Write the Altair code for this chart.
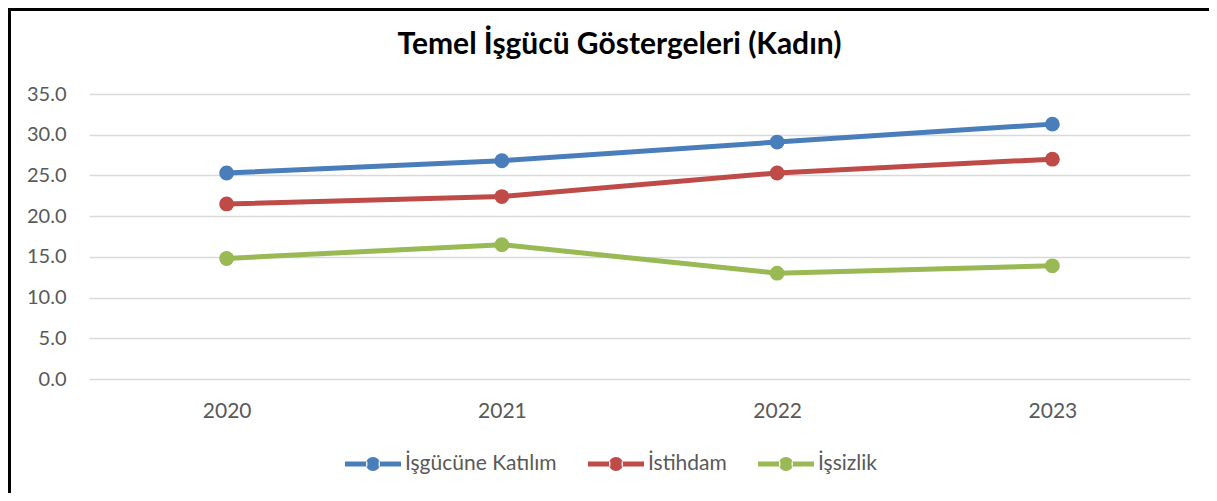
import altair as alt
import pandas as pd

years = ["2020", "2021", "2022", "2023"]
series_names = ["İşgücüne Katılım", "İstihdam", "İşsizlik"]
katilim = [25.3, 26.8, 29.1, 31.3]
istihdam = [21.5, 22.4, 25.3, 27.0]
issizlik = [14.8, 16.5, 13.0, 13.9]
colors = ["#4A7EBB", "#BE4B48", "#98B954"]
y_ticks = [0, 5, 10, 15, 20, 25, 30, 35]

rows = []
for name, vals in zip(series_names, [katilim, istihdam, issizlik]):
    for yr, v in zip(years, vals):
        rows.append({"Yıl": yr, "Seri": name, "Değer": v})
df = pd.DataFrame(rows)

W, H = 1101, 285
PAD = {"left": 81, "top": 86, "right": 19, "bottom": 114}

xenc = alt.X("Yıl:N", sort=years,
             scale=alt.Scale(type="point", padding=0.5),
             axis=alt.Axis(title=None, labelAngle=0, domain=False, ticks=False,
                           labelPadding=21, labelFontSize=21, labelFont="Lato",
                           labelColor="#595959", grid=False))
yenc = alt.Y("Değer:Q", scale=alt.Scale(domain=[0, 35], nice=False),
             axis=alt.Axis(title=None, values=y_ticks, format=".1f", domain=False,
                           ticks=False, labelPadding=23, labelFontSize=20,
                           labelFont="Lato", labelColor="#595959",
                           gridColor="#D9D9D9", gridWidth=1.5))

legend_path = ("M-1,-0.09L-0.2,-0.09L-0.2,0.09L-1,0.09Z "
               "M0.2,-0.09L1,-0.09L1,0.09L0.2,0.09Z "
               "M-0.25,0A0.25,0.25,0,1,0,0.25,0A0.25,0.25,0,1,0,-0.25,0Z")

base = alt.Chart(df)
lines = base.mark_line(strokeWidth=5, strokeCap="round").encode(
    x=xenc, y=yenc,
    stroke=alt.Stroke("Seri:N", scale=alt.Scale(range=colors),
                      sort=series_names, legend=None),
)
points = base.mark_point(size=220, filled=True, opacity=1).encode(
    x=xenc, y=yenc,
    color=alt.Color("Seri:N", scale=alt.Scale(domain=series_names, range=colors),
                    sort=series_names,
                    legend=alt.Legend(title=None, orient="none", direction="horizontal",
                                      legendX=256, legendY=342,
                                      symbolType=legend_path, symbolSize=3136,
                                      symbolStrokeWidth=0, symbolOpacity=1,
                                      labelFont="Lato", labelFontSize=21,
                                      labelColor="#595959", labelOffset=4,
                                      columnPadding=31, padding=0)),
)
top_line = alt.Chart(pd.DataFrame({"k": [0]})).mark_rule(
    color="black", strokeWidth=3
).encode(x=alt.value(-81), x2=alt.value(1125), y=alt.value(-84.5))
left_line = alt.Chart(pd.DataFrame({"k": [0]})).mark_rule(
    color="black", strokeWidth=3
).encode(x=alt.value(-79.5), y=alt.value(-86), y2=alt.value(420))

chart = alt.layer(top_line, left_line, lines, points).properties(
    width=W, height=H,
    autosize=alt.AutoSizeParams(type="none"),
    padding=PAD,
    background="white",
    title=alt.TitleParams("Temel İşgücü Göstergeleri (Kadın)", font="Lato",
                          fontSize=30, fontWeight="bold", color="black",
                          anchor="middle", frame="group", dx=-20, offset=-53),
).configure_view(stroke="transparent", strokeWidth=0)

chart.save("out.html", embed_options={"renderer": "svg", "actions": False})
